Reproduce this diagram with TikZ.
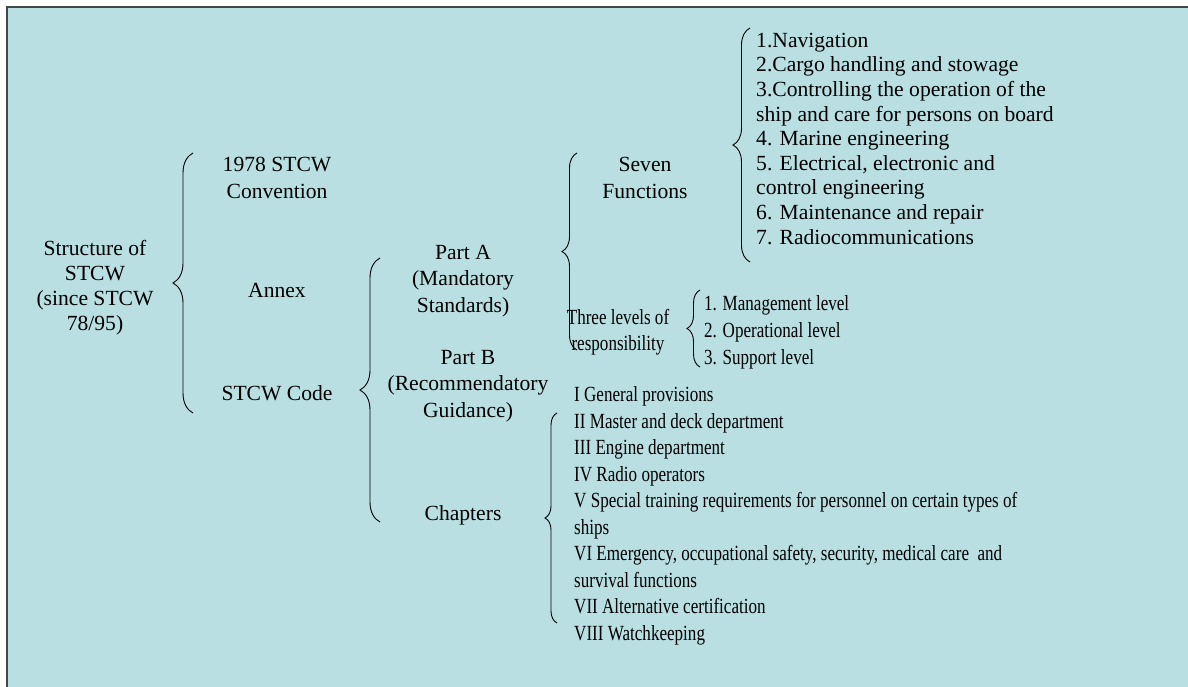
\documentclass[tikz,border=0pt]{standalone}
\usepackage{fontspec}
\setmainfont{Liberation Serif}
\newfontfamily\bodyfont{Liberation Serif}
\newfontfamily\narrowfont[FakeStretch=0.79]{Liberation Serif}
\usetikzlibrary{decorations.pathreplacing}

\definecolor{panelbg}{RGB}{185,223,226}
\definecolor{panelrule}{RGB}{64,72,72}

\tikzset{
  lbl/.style={inner sep=0pt, anchor=base, align=center, font=\bodyfont\fontsize{21.6}{#1}\selectfont},
  lbl/.default=27,
  lst/.style={inner sep=0pt, anchor=base west, align=left, font=\bodyfont\fontsize{21.6}{24.6}\selectfont},
  nlbl/.style={inner sep=0pt, anchor=base, align=center, font=\narrowfont\fontsize{21.6}{26}\selectfont},
  nlst/.style={inner sep=0pt, anchor=base west, align=left, font=\narrowfont\fontsize{21.6}{#1}\selectfont},
  nlst/.default=26.5,
  brc/.style={decorate, decoration={brace, amplitude=#1}, line width=0.9pt},
}

\begin{document}
\begin{tikzpicture}[x=1pt, y=-1pt]
  \useasboundingbox (0,0) rectangle (1188,687);

  % 1. Nền khung
  \fill[panelbg] (7,7) rectangle (1188,687);
  \draw[panelrule, line width=1.5pt] (7,687) -- (7,7) -- (1188,7);

  % 2. Gốc cây (neo ở dòng cuối)
  \node[lbl=24.7] (root) at (95,330) {Structure of\\STCW\\(since STCW\\78/95)};

  % 3. Cấp 1
  \node[lbl] (conv) at (277,199) {1978 STCW\\Convention};
  \node[lbl] (annex) at (277,297) {Annex};
  \node[lbl] (code) at (277,400) {STCW Code};

  % 4. Cấp 2 (STCW Code)
  \node[lbl=26.5] (parta) at (463,312) {Part A\\(Mandatory\\Standards)};
  \node[lbl=26.5] (partb) at (468,417) {Part B\\(Recommendatory\\Guidance)};
  \node[lbl] (chap) at (463,520) {Chapters};

  % 5. Cấp 3 (Part A)
  \node[lbl] (seven) at (645,199) {Seven\\Functions};
  \node[nlbl] (three) at (618,350) {Three levels of\\responsibility};

  % 6. Các danh sách
  \node[lst] (funcs) at (756,244) {1.Navigation\\2.Cargo handling and stowage\\3.Controlling the operation of the\\ship and care for persons on board\\4. Marine engineering\\5. Electrical, electronic and\\control engineering\\6. Maintenance and repair\\7. Radiocommunications};
  \node[nlst=27] (levels) at (704,364) {1. Management level\\2. Operational level\\3. Support level};
  \node[nlst] (chaps) at (574,640) {I General provisions\\II Master and deck department\\III Engine department\\IV Radio operators\\V Special training requirements for personnel on certain types of\\ships\\VI Emergency, occupational safety, security, medical care \ and\\survival functions\\VII Alternative certification\\VIII Watchkeeping};

  % 7. Dấu ngoặc nhọn
  \coordinate (b1s) at (193,413);
  \coordinate (b1e) at (193,153);
  \draw[brc=20] (b1s) -- (b1e);

  \coordinate (b2s) at (380,522);
  \coordinate (b2e) at (380,258);
  \draw[brc=20] (b2s) -- (b2e);

  \coordinate (b3s) at (577,350);
  \coordinate (b3e) at (577,153);
  \draw[brc=15] (b3s) -- (b3e);

  \coordinate (b4s) at (750,262);
  \coordinate (b4e) at (750,28);
  \draw[brc=17] (b4s) -- (b4e);

  \coordinate (b5s) at (700,367);
  \coordinate (b5e) at (700,290);
  \draw[brc=13] (b5s) -- (b5e);

  \coordinate (b6s) at (557,623);
  \coordinate (b6e) at (557,413);
  \draw[brc=12] (b6s) -- (b6e);

\end{tikzpicture}
\end{document}
